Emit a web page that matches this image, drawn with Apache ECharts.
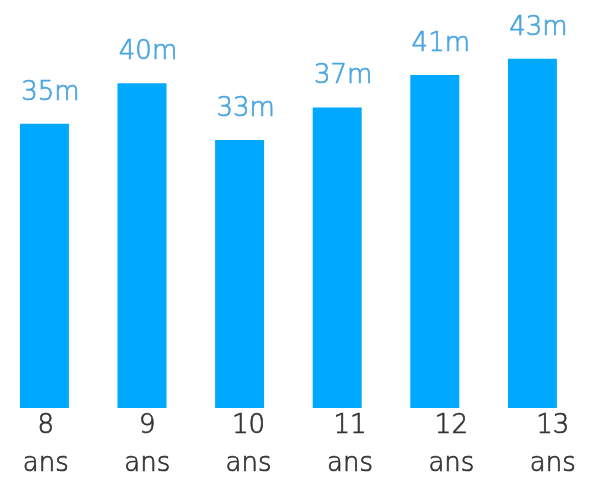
<!DOCTYPE html>
<html>
<head>
<meta charset="utf-8">
<style>
  html, body { margin: 0; padding: 0; background: #ffffff; overflow: hidden; }
  /* the canvas is a little wider than the window so the first category band can start left of the edge */
  #chart { width: 620px; height: 483px; margin-left: -10px; }
</style>
<script src="https://cdn.jsdelivr.net/npm/echarts@6/dist/echarts.min.js"></script>
</head>
<body>
<div id="chart"></div>
<script>
// Ages shown on the horizontal axis
const ages = ['8', '9', '10', '11', '12', '13'];
const ageUnit = 'ans';
// Distance per age, in metres
const distances = [35, 40, 33, 37, 41, 43];
const valueUnit = 'm';

const BAR_BLUE = '#00a8ff';
const LABEL_BLUE = '#4aa5e0';
const TEXT_DARK = '#333333';
const FONT = '"DejaVu Sans", sans-serif';

const chart = echarts.init(document.getElementById('chart'), null, { renderer: 'canvas' });

chart.setOption({
  animation: false,
  backgroundColor: '#ffffff',
  grid: [
    // bars
    { left: 5.6, width: 585.6, top: 2, height: 406 },
    // age labels, laid out on a slightly wider band below the bars
    { left: 5.1, width: 608.4, top: 407, height: 1 }
  ],
  xAxis: [
    {
      type: 'category', gridIndex: 0, data: ages,
      axisLine: { show: false }, axisTick: { show: false },
      axisLabel: { show: false }
    },
    {
      type: 'category', gridIndex: 1, data: ages, position: 'bottom',
      axisLine: { show: false }, axisTick: { show: false },
      axisLabel: {
        margin: 0,
        color: TEXT_DARK,
        fontFamily: FONT,
        fontSize: 26,
        fontWeight: 300,
        textBorderColor: TEXT_DARK,
        textBorderWidth: 0.7,
        lineHeight: 38,
        formatter: v => v + '\n' + ageUnit
      }
    }
  ],
  yAxis: [
    { type: 'value', gridIndex: 0, min: 0, max: 50, show: false, splitLine: { show: false } },
    { type: 'value', gridIndex: 1, show: false, splitLine: { show: false } }
  ],
  series: [{
    type: 'bar',
    xAxisIndex: 0, yAxisIndex: 0,
    data: distances,
    barWidth: 49,
    itemStyle: { color: BAR_BLUE },
    label: {
      show: true,
      position: 'top',
      distance: 18,
      offset: [6, 0],
      color: LABEL_BLUE,
      fontFamily: FONT,
      fontSize: 26,
      fontWeight: 300,
      textBorderColor: LABEL_BLUE,
      textBorderWidth: 0.7,
      formatter: p => p.value + valueUnit
    }
  }]
});
</script>
</body>
</html>
